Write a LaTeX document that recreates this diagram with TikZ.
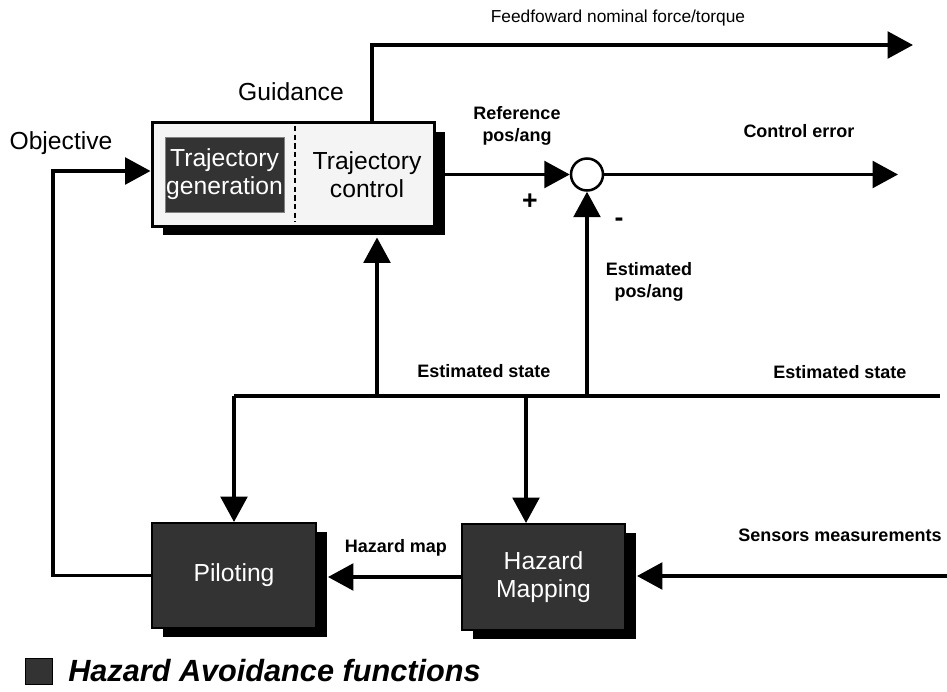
\documentclass[tikz,border=0pt]{standalone}
\usepackage{fontspec}
\setmainfont{Liberation Sans}
\usetikzlibrary{arrows.meta,shadows,calc}
\definecolor{boxdark}{HTML}{333333}
\definecolor{boxlight}{HTML}{F4F4F4}
\newcommand{\shx}{8pt}
\newcommand{\shy}{-7pt}
\newcommand{\bigtxt}{\fontsize{18.5}{21}\selectfont}
\newcommand{\lbltxt}{\fontsize{13.5}{16.5}\selectfont\bfseries}

\tikzset{
  flow/.style={line width=2.4pt,-{Triangle[length=19pt,width=20pt]}},
  wire/.style={line width=2.4pt},
  darkbox/.style={draw=black,line width=1.5pt,fill=boxdark,text=white,align=center,inner sep=0pt,
    font=\bigtxt,general shadow={fill=black,shadow xshift=\shx,shadow yshift=\shy}},
  lbl/.style={font=\lbltxt,align=center,inner sep=0pt}
}

\begin{document}
\begin{tikzpicture}[x=0.75pt,y=-0.75pt]
        \useasboundingbox (0,0) rectangle (947,692);

        % Guidance block with its two parts
        \node[draw=black,line width=2.25pt,fill=boxlight,minimum width=211.5pt,minimum height=77.25pt,
              inner sep=0pt,general shadow={fill=black,shadow xshift=\shx,shadow yshift=\shy}] (guid) at (293,174.5) {};
        \node[fill=boxdark,draw=gray,line width=0.4pt,text=white,align=center,font=\bigtxt,
              minimum width=89.25pt,minimum height=56.25pt,inner sep=0pt] (tgen) at (224.5,174.5) {Trajectory\\generation};
        \node[align=center,font=\bigtxt] (tctl) at (367,175) {Trajectory\\control};
        \draw[line width=1.2pt,dash pattern=on 4pt off 2.5pt] (295,126) -- (295,222);

        % Summing point
        \node[circle,draw,line width=1.9pt,minimum size=24pt,inner sep=0pt,fill=white] (sum) at (587,174.5) {};

        % Hazard avoidance blocks
        \node[darkbox,minimum width=123pt,minimum height=78.75pt] (pil) at (234,575.5) {Piloting};
        \node[darkbox,minimum width=122.25pt,minimum height=79.5pt] (hmap) at (543.5,577) {Hazard\\Mapping};

        % Free ends and bus points
        \coordinate (objc) at (53,171);
        \coordinate (ffend) at (913,45);
        \coordinate (errend) at (898,174.5);
        \coordinate (busl) at (234,396);
        \coordinate (busr) at (940,396);
        \coordinate (busg) at (377,396);
        \coordinate (buss) at (587,396);
        \coordinate (bush) at (526,396);
        \coordinate (sens) at (947,576);

        % Draw the connectors
        \draw[flow] (pil.west) -| (objc) -- (objc -| guid.west);
        \draw[flow] ($(guid.north)+(79,0)$) |- (ffend);
        \draw[flow] (guid.east) -- (sum.west);
        \draw[flow] (sum.east) -- (errend);
        \draw[wire] (busl) -- (busr);
        \draw[flow] (busg) -- ($(busg |- guid.south)+(0,10)$);
        \draw[flow] (buss) -- (sum.south);
        \draw[flow] (busl) -- (pil.north);
        \draw[flow] (bush) -- (bush |- hmap.north);
        \draw[flow] (hmap.west) -- ($(pil.east |- hmap.west)+(11,0)$);
        \draw[flow] (sens) -- ($(hmap.east |- sens)+(11,0)$);

        % Labels
        \node[font=\bigtxt] (objlbl) at (61,143) {Objective};
        \node[font=\bigtxt] (guidlbl) at (291,92) {Guidance};
        \node[lbl,font=\fontsize{13}{16}\selectfont] (fflbl) at (618,18) {Feedfoward nominal force/torque};
        \node[lbl] (reflbl) at (517,126) {Reference\\pos/ang};
        \node[lbl] (errlbl) at (799,131) {Control error};
        \node[lbl,font=\fontsize{20}{20}\selectfont\bfseries] (plus) at (530,202) {+};
        \node[lbl,font=\fontsize{20}{20}\selectfont\bfseries] (minus) at (619,222) {-};
        \node[lbl] (estlbl) at (649,282) {Estimated\\pos/ang};
        \node[lbl] (st1) at (484,371) {Estimated state};
        \node[lbl] (st2) at (840,372) {Estimated state};
        \node[lbl] (hmlbl) at (396,548) {Hazard map};
        \node[lbl] (senslbl) at (840,535) {Sensors measurements};

        % Legend
        \node[draw=black,line width=0.8pt,fill=boxdark,minimum size=20pt,inner sep=0pt] (legbox) at (39,671.5) {};
        \node[anchor=west,inner sep=0pt,font=\fontsize{23}{23}\selectfont\bfseries\itshape] (legtxt) at (68,671) {Hazard Avoidance functions};
    \end{tikzpicture}
\end{document}
